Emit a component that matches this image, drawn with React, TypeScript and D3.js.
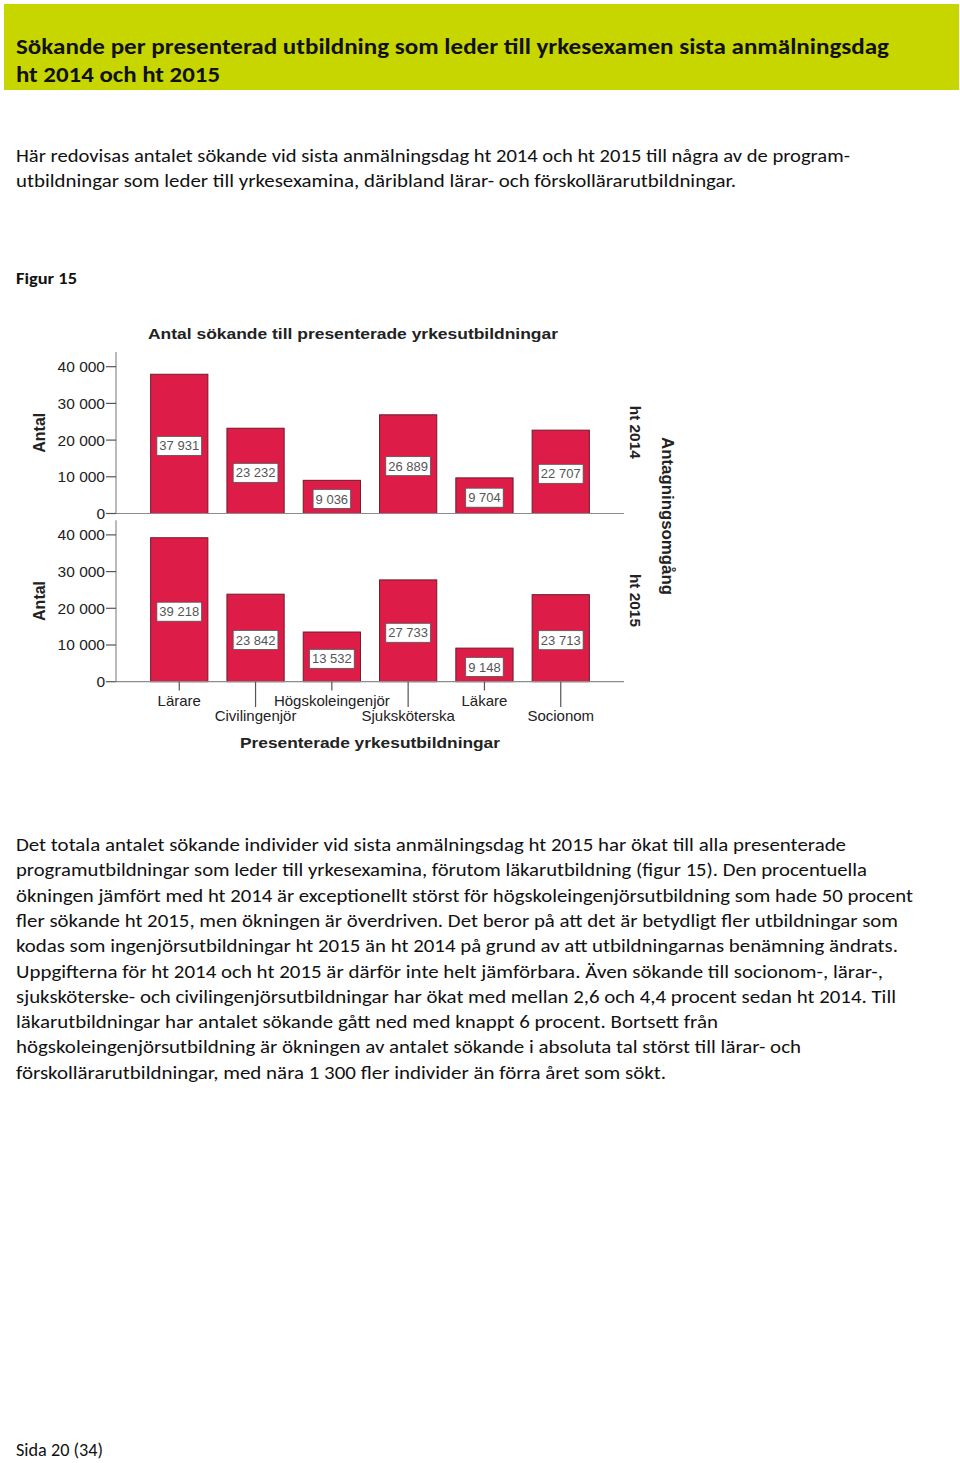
import React from 'react';
import * as d3 from 'd3';

// chart data
const categories = ['Lärare', 'Civilingenjör', 'Högskoleingenjör', 'Sjuksköterska', 'Läkare', 'Socionom'];
const ht2014 = [37931, 23232, 9036, 26889, 9704, 22707];
const ht2015 = [39218, 23842, 13532, 27733, 9148, 23713];
const panelNames = ['ht 2014', 'ht 2015'];
const yTicks = [0, 10000, 20000, 30000, 40000];

// page text
const titleLines = [
  'Sökande per presenterad utbildning som leder till yrkesexamen sista anmälningsdag',
  'ht 2014 och ht 2015',
];
const introLines = [
  'Här redovisas antalet sökande vid sista anmälningsdag ht 2014 och ht 2015 till några av de program-',
  'utbildningar som leder till yrkesexamina, däribland lärar- och förskollärarutbildningar.',
];
const bodyLines = [
  'Det totala antalet sökande individer vid sista anmälningsdag ht 2015 har ökat till alla presenterade',
  'programutbildningar som leder till yrkesexamina, förutom läkarutbildning (figur 15). Den procentuella',
  'ökningen jämfört med ht 2014 är exceptionellt störst för högskoleingenjörsutbildning som hade 50 procent',
  'fler sökande ht 2015, men ökningen är överdriven. Det beror på att det är betydligt fler utbildningar som',
  'kodas som ingenjörsutbildningar ht 2015 än ht 2014 på grund av att utbildningarnas benämning ändrats.',
  'Uppgifterna för ht 2014 och ht 2015 är därför inte helt jämförbara. Även sökande till socionom-, lärar-,',
  'sjuksköterske- och civilingenjörsutbildningar har ökat med mellan 2,6 och 4,4 procent sedan ht 2014. Till',
  'läkarutbildningar har antalet sökande gått ned med knappt 6 procent. Bortsett från',
  'högskoleingenjörsutbildning är ökningen av antalet sökande i absoluta tal störst till lärar- och',
  'förskollärarutbildningar, med nära 1 300 fler individer än förra året som sökt.',
];
// measured line widths in the reference
const titleWidths = [873, 204];
const introWidths = [834, 720];
const bodyWidths = [830, 851, 897, 882, 882, 867, 880, 702, 785, 650];

const pageFont = 'Carlito, Lato, sans-serif';
const chartFont = '"Liberation Sans", Arial, sans-serif';
const barFill = '#de1c48';
const barStroke = '#6e1a28';

const fmt = d3.formatLocale({ decimal: ',', thousands: ' ', grouping: [3], currency: ['', ''] }).format(',d');

const x = d3.scaleBand<string>()
  .domain(categories)
  .range([116, 624])
  .paddingInner(0.25)
  .paddingOuter(0.454);

const panelZero = [513.5, 681.7];
const panelH = 161.5;
const yScales = panelZero.map(z => d3.scaleLinear().domain([0, 44000]).range([z, z - panelH]));

function labelWidth(s: string) {
  let w = 0;
  for (const c of s) w += c === ' ' ? 0.278 : 0.556;
  return w * 13 + 5;
}

function Panel({ idx, values }: { idx: number; values: number[] }) {
  const y = yScales[idx];
  const z = panelZero[idx];
  const bw = x.bandwidth();
  return (
    <g>
      {/* y axis */}
      <line x1={116} x2={116} y1={z - panelH} y2={z} stroke="#8c8c8c" strokeWidth={1.2} />
      {yTicks.map(t => (
        <g key={t}>
          <line x1={106} x2={116} y1={y(t)} y2={y(t)} stroke="#555" strokeWidth={1.2} />
          <text x={105} y={y(t) + 5.5} textAnchor="end" fontSize={15.5} fill="#222" fontFamily={chartFont}>
            {fmt(t)}
          </text>
        </g>
      ))}
      <text
        transform={`translate(44.5,${z - panelH / 2}) rotate(-90)`}
        textAnchor="middle"
        fontSize={16}
        fontWeight="bold"
        fill="#222"
        fontFamily={chartFont}
      >
        Antal
      </text>
      {/* bars */}
      {values.map((v, i) => {
        const bx = x(categories[i])!;
        const top = y(v);
        const mid = (top + z) / 2 + 2;
        const label = fmt(v);
        const lw = labelWidth(label);
        return (
          <g key={categories[i]}>
            <rect x={bx} y={top} width={bw} height={z - top} fill={barFill} stroke={barStroke} strokeWidth={1} />
            <rect x={bx + bw / 2 - lw / 2} y={mid - 9.5} width={lw} height={19} fill="#fff" stroke="#555" strokeWidth={0.8} />
            <text x={bx + bw / 2} y={mid + 4.6} textAnchor="middle" fontSize={13} fill="#555" fontFamily={chartFont}>
              {label}
            </text>
          </g>
        );
      })}
      {/* baseline */}
      <line x1={116} x2={624} y1={z} y2={z} stroke="#8c8c8c" strokeWidth={1.2} />
      {/* panel label on the right */}
      <text
        transform={`translate(630,${z - panelH / 2 - 0.5}) rotate(90)`}
        textAnchor="middle"
        fontSize={15}
        fontWeight="bold"
        fill="#222"
        fontFamily={chartFont}
        textLength={53}
        lengthAdjust="spacingAndGlyphs"
      >
        {panelNames[idx]}
      </text>
    </g>
  );
}

export default function App() {
  const xAxisY = panelZero[1];
  return (
    <svg width={960} height={1463} style={{ position: 'absolute', left: 0, top: 0, background: '#fff' }}>
      <rect x={0} y={0} width={960} height={1463} fill="#fff" />
      {/* header band */}
      <rect x={4} y={4} width={955} height={86} fill="#c8d600" />
      {titleLines.map((l, i) => (
        <text key={i} x={16} y={54 + i * 28} fontSize={22} fontWeight="bold" fill="#111" fontFamily={pageFont}
          textLength={titleWidths[i]} lengthAdjust="spacingAndGlyphs">{l}</text>
      ))}
      {introLines.map((l, i) => (
        <text key={i} x={16} y={162 + i * 24.5} fontSize={17.5} fill="#111" fontFamily={pageFont}
          textLength={introWidths[i]} lengthAdjust="spacingAndGlyphs">{l}</text>
      ))}
      <text x={16} y={283.5} fontSize={15} fontWeight="bold" fill="#111" fontFamily={pageFont}
        textLength={61} lengthAdjust="spacingAndGlyphs">Figur 15</text>

      {/* chart */}
      <text x={148} y={338.5} fontSize={15} fontWeight="bold" fill="#222" fontFamily={chartFont}
        textLength={410} lengthAdjust="spacingAndGlyphs">Antal sökande till presenterade yrkesutbildningar</text>
      <Panel idx={0} values={ht2014} />
      <Panel idx={1} values={ht2015} />
      {categories.map((c, i) => {
        const cx = x(c)! + x.bandwidth() / 2;
        const low = i % 2 === 1;
        return (
          <g key={c}>
            <line x1={cx} x2={cx} y1={xAxisY} y2={low ? 707 : 690.5} stroke="#555" strokeWidth={1.2} />
            <text x={cx} y={low ? 721 : 705.5} textAnchor="middle" fontSize={15} fill="#222" fontFamily={chartFont}>{c}</text>
          </g>
        );
      })}
      <text x={240} y={748} fontSize={15} fontWeight="bold" fill="#222" fontFamily={chartFont}
        textLength={260} lengthAdjust="spacingAndGlyphs">Presenterade yrkesutbildningar</text>
      <text transform="translate(662,516) rotate(90)" textAnchor="middle" fontSize={16} fontWeight="bold" fill="#222"
        fontFamily={chartFont} textLength={158} lengthAdjust="spacingAndGlyphs">Antagningsomgång</text>

      {/* body paragraph */}
      {bodyLines.map((l, i) => (
        <text key={i} x={16} y={851 + i * 25.3} fontSize={17.5} fill="#111" fontFamily={pageFont}
          textLength={bodyWidths[i]} lengthAdjust="spacingAndGlyphs">{l}</text>
      ))}
      <text x={16} y={1456} fontSize={17.5} fill="#111" fontFamily={pageFont}
        textLength={87} lengthAdjust="spacingAndGlyphs">Sida 20 (34)</text>
    </svg>
  );
}
